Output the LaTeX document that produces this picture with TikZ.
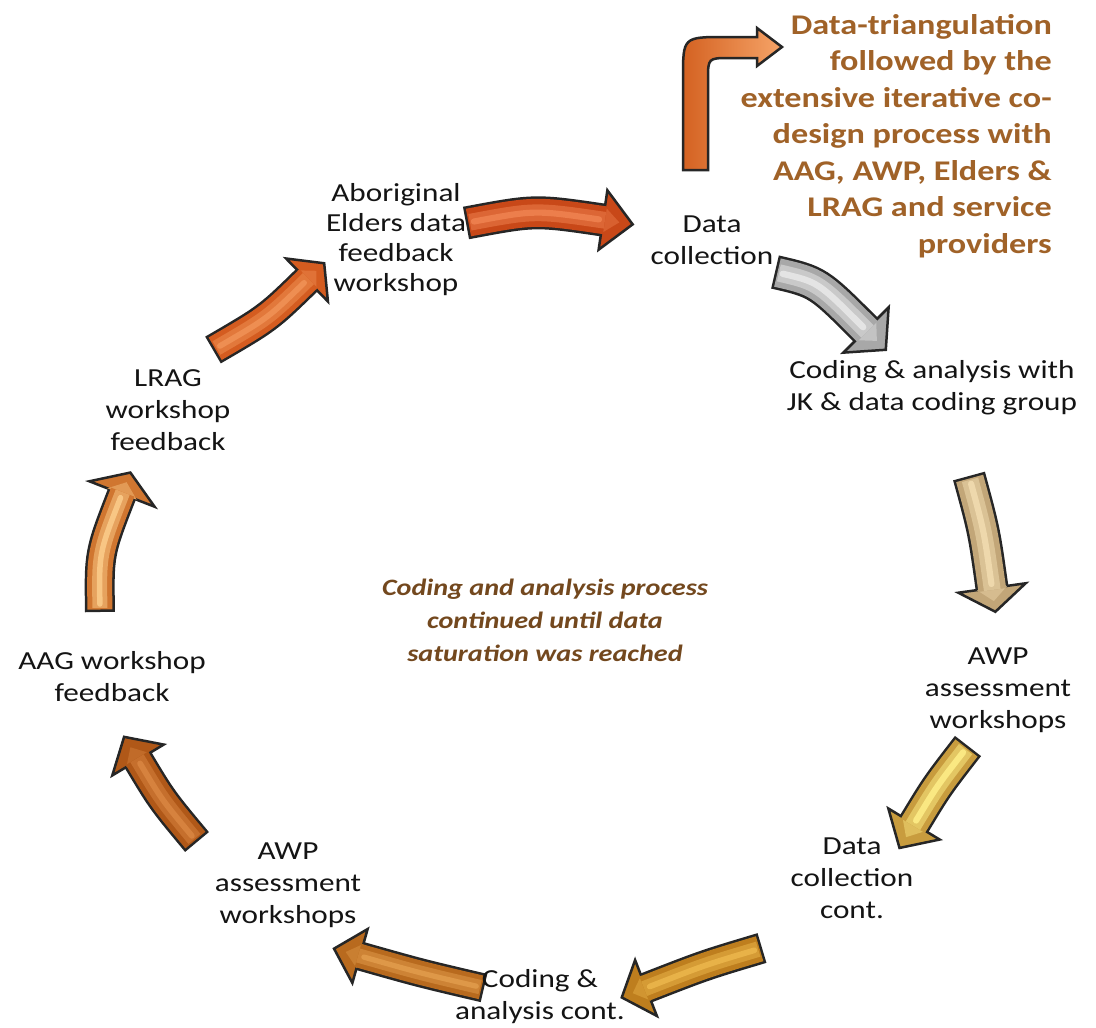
\documentclass[tikz,border=0pt]{standalone}
\usepackage{fontspec}
\setmainfont{Carlito}
\usetikzlibrary{calc}

\definecolor{labelink}{RGB}{20,20,20}
\definecolor{noteink}{RGB}{160,98,40}
\definecolor{midink}{RGB}{115,72,30}
\definecolor{redbody}{RGB}{200,72,24}   \definecolor{redlight}{RGB}{236,126,76}
\definecolor{greybody}{RGB}{168,168,168}\definecolor{greylight}{RGB}{228,228,228}
\definecolor{tanbody}{RGB}{194,166,120} \definecolor{tanlight}{RGB}{238,216,172}
\definecolor{goldbody}{RGB}{200,156,62} \definecolor{goldlight}{RGB}{250,232,130}
\definecolor{bronzebody}{RGB}{190,126,30}\definecolor{bronzelight}{RGB}{232,178,72}
\definecolor{rustbody}{RGB}{184,106,30} \definecolor{rustlight}{RGB}{222,152,72}
\definecolor{copperbody}{RGB}{176,88,24}\definecolor{copperlight}{RGB}{214,130,62}
\definecolor{amberbody}{RGB}{208,118,48}\definecolor{amberlight}{RGB}{248,198,132}
\definecolor{flamebody}{RGB}{212,92,32} \definecolor{flamelight}{RGB}{238,142,82}
\definecolor{bentleft}{RGB}{212,98,34}  \definecolor{bentright}{RGB}{246,164,104}

% curved block arrow: #1 tail, #2 control, #3 head base, #4 shaft width,
% #5 head length, #6 head half-width, #7 body colour, #8 highlight colour
\newcommand{\cyclearrow}[8]{%
  \draw[line width=#4+5pt, black!85] (#1) .. controls (#2) .. (#3);
  \filldraw[draw=black!85, line width=2.5pt, line join=miter, fill=#7]
    ($(#3)!#6!90:(#2)$) -- ($(#3)!-#5!(#2)$) -- ($(#3)!#6!-90:(#2)$) -- cycle;
  \fill[#8!45!#7]
    ($(#3)!0.45*#6!90:(#2)$) -- ($(#3)!-0.55*#5!(#2)$) -- ($(#3)!0.45*#6!-90:(#2)$) -- cycle;
  \draw[line width=#4, #7, shorten <=2.5pt, shorten >=-2pt] (#1) .. controls (#2) .. (#3);
  \draw[line width=0.6*#4, #8!55!#7, shorten <=4pt, shorten >=-2pt] (#1) .. controls (#2) .. (#3);
  \draw[line width=0.22*#4, #8, line cap=round, shorten <=8pt, shorten >=4pt] (#1) .. controls (#2) .. (#3);
}

\tikzset{
  steplabel/.style={font=\fontsize{26}{32}\selectfont, text=labelink, align=center,
    inner sep=0pt, xscale=1.2},
  sidenote/.style={font=\fontsize{28.5}{36.5}\selectfont\bfseries, text=noteink, align=right,
    inner sep=0pt, xscale=1.2},
  midnote/.style={font=\fontsize{23.5}{33}\selectfont\bfseries\itshape, text=midink, align=center,
    inner sep=0pt, xscale=1.2},
}

\begin{document}
\begin{tikzpicture}[x=1pt, y=-1pt]
\useasboundingbox[fill=white] (0,0) rectangle (1096,1028);

% arrow geometry: tail, control, head base
\coordinate (t1) at (466,223); \coordinate (c1) at (535,210); \coordinate (b1) at (603,220);
\coordinate (t2) at (775,272); \coordinate (c2) at (818,282); \coordinate (b2) at (866,330);
\coordinate (t3) at (969,476); \coordinate (c3) at (984,531); \coordinate (b3) at (992,588);
\coordinate (t4) at (968,746); \coordinate (c4) at (937,786); \coordinate (b4) at (914,824);
\coordinate (t5) at (762,948); \coordinate (c5) at (705,965); \coordinate (b5) at (646,988);
\coordinate (t6) at (484,988); \coordinate (c6) at (420,973); \coordinate (b6) at (360,956);
\coordinate (t7) at (197,842); \coordinate (c7) at (162,800); \coordinate (b7) at (138,760);
\coordinate (t8) at (100,612); \coordinate (c8) at (99,553);  \coordinate (b8) at (122,494);
\coordinate (t9) at (213,350); \coordinate (c9) at (268,318); \coordinate (b9) at (307,280);

\cyclearrow{t1}{c1}{b1}{28pt}{30pt}{30pt}{redbody}{redlight}
\cyclearrow{t2}{c2}{b2}{29pt}{28pt}{32pt}{greybody}{greylight}
\cyclearrow{t3}{c3}{b3}{28pt}{24pt}{34pt}{tanbody}{tanlight}
\cyclearrow{t4}{c4}{b4}{28pt}{28pt}{30pt}{goldbody}{goldlight}
\cyclearrow{t5}{c5}{b5}{26pt}{26pt}{30pt}{bronzebody}{bronzelight}
\cyclearrow{t6}{c6}{b6}{24pt}{27pt}{28pt}{rustbody}{rustlight}
\cyclearrow{t7}{c7}{b7}{26pt}{27pt}{30pt}{copperbody}{copperlight}
\cyclearrow{t8}{c8}{b8}{25pt}{23pt}{35pt}{amberbody}{amberlight}
\cyclearrow{t9}{c9}{b9}{26pt}{24pt}{30pt}{flamebody}{flamelight}

% bent arrow leading to the side note
\filldraw[draw=black!85, line width=2.5pt, line join=miter,
  left color=bentleft, right color=bentright]
  (683,170) -- (683,78) .. controls (683,37) .. (725,37) -- (757,37) -- (757,28)
  -- (782,47) -- (757,66) -- (757,58) -- (730,58) .. controls (708,58) .. (708,80)
  -- (708,170) -- cycle;

% cycle labels
\node[steplabel, font=\fontsize{26}{30}\selectfont] (elders) at (396,240) {Aboriginal\\Elders data\\feedback\\workshop};
\node[steplabel] (collect) at (712,240) {Data\\collection};
\node[steplabel] (coding) at (932,388) {Coding \& analysis with\\JK \& data coding group};
\node[steplabel] (awpright) at (998,690) {AWP\\assessment\\workshops};
\node[steplabel] (collectcont) at (852,878) {Data\\collection\\cont.};
\node[steplabel] (codingcont) at (540,997) {Coding \&\\analysis cont.};
\node[steplabel] (awpleft) at (288,885) {AWP\\assessment\\workshops};
\node[steplabel] (aag) at (112,677) {AAG workshop\\feedback};
\node[steplabel] (lrag) at (168,410) {LRAG\\workshop\\feedback};

% notes
\node[midnote] (saturation) at (545,620) {Coding and analysis process\\continued until data\\saturation was reached};
\node[sidenote, anchor=north east] (triang) at (1052,14)
  {Data-triangulation\\followed by the\\extensive iterative co-\\design process with\\AAG, AWP, Elders \&\\LRAG and service\\providers};
\end{tikzpicture}
\end{document}
